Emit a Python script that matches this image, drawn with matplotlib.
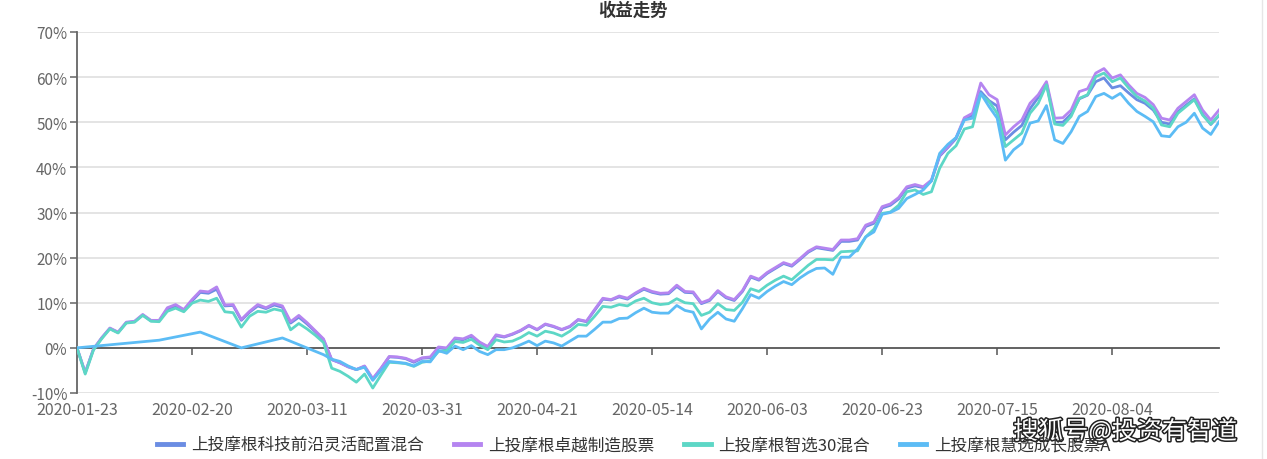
import matplotlib
matplotlib.use("Agg")
import matplotlib.pyplot as plt
import matplotlib.patheffects as pe
from matplotlib.lines import Line2D

plt.rcParams['font.family'] = ['Noto Sans CJK SC', 'DejaVu Sans']

title = "收益走势"
series_names = ["上投摩根科技前沿灵活配置混合", "上投摩根卓越制造股票",
                "上投摩根智选30混合", "上投摩根慧选成长股票A"]
x_labels = ["2020-01-23", "2020-02-20", "2020-03-11", "2020-03-31", "2020-04-21",
            "2020-05-14", "2020-06-03", "2020-06-23", "2020-07-15", "2020-08-04"]
label_step = 14
y_ticks = [-10, 0, 10, 20, 30, 40, 50, 60, 70]

# 上投摩根科技前沿灵活配置混合 (%)
keji = [0, -5.5, -0.3, 2.2, 4.3, 3.4, 5.6, 5.8, 7.3, 6.0,
        6.0, 8.6, 9.3, 8.3, 10.4, 12.3, 12.1, 13.0, 9.3, 9.4,
        6.1, 7.9, 9.3, 8.7, 9.5, 9.0, 5.5, 6.8, 5.3, 3.6,
        1.8, -2.6, -3.3, -4.2, -4.8, -4.1, -7.0, -4.6, -2.0, -2.1,
        -2.4, -3.2, -2.3, -2.2, 0.0, -0.2, 2.0, 1.8, 2.6, 1.1,
        0.2, 2.7, 2.4, 3.0, 3.8, 4.9, 4.0, 5.2, 4.7, 4.0,
        4.7, 6.2, 5.8, 8.3, 10.8, 10.6, 11.3, 10.8, 12.0, 13.0,
        12.3, 11.9, 12.0, 13.6, 12.3, 12.2, 9.8, 10.5, 12.5, 11.1,
        10.5, 12.5, 15.7, 15.0, 16.5, 17.6, 18.7, 18.1, 19.6, 21.2,
        22.2, 21.9, 21.6, 23.6, 23.6, 23.9, 26.9, 27.6, 31.0, 31.6,
        33.0, 35.4, 35.9, 35.5, 37.0, 42.5, 44.4, 46.4, 50.6, 51.6,
        56.8, 54.8, 53.6, 46.1, 47.8, 49.3, 53.0, 55.5, 58.6, 50.0,
        50.0, 51.8, 55.2, 56.0, 59.0, 59.8, 57.6, 58.1, 56.5, 55.0,
        54.2, 52.7, 50.0, 49.6, 52.3, 53.8, 55.2, 51.8, 49.5, 51.5]

# 上投摩根卓越制造股票 (%)
zhuoyue = [0, -5.5, -0.3, 2.2, 4.4, 3.5, 5.7, 5.9, 7.4, 6.1,
           6.1, 8.9, 9.6, 8.5, 10.7, 12.6, 12.4, 13.5, 9.5, 9.6,
           6.3, 8.1, 9.6, 8.9, 9.8, 9.3, 5.8, 7.2, 5.6, 3.8,
           2.0, -2.6, -3.3, -4.2, -4.8, -4.0, -6.8, -4.5, -1.9, -2.0,
           -2.3, -3.0, -2.2, -2.0, 0.2, 0.0, 2.2, 2.0, 2.8, 1.3,
           0.3, 2.9, 2.5, 3.1, 3.9, 5.0, 4.1, 5.3, 4.8, 4.1,
           4.8, 6.3, 5.9, 8.5, 11.0, 10.7, 11.5, 11.0, 12.2, 13.2,
           12.5, 12.1, 12.2, 13.9, 12.5, 12.4, 10.0, 10.7, 12.7, 11.3,
           10.7, 12.7, 15.9, 15.2, 16.7, 17.8, 18.9, 18.3, 19.8, 21.4,
           22.4, 22.1, 21.8, 23.9, 23.9, 24.2, 27.2, 27.9, 31.3, 31.9,
           33.3, 35.7, 36.2, 35.7, 37.2, 42.7, 44.6, 46.6, 51.0, 52.0,
           58.7, 56.1, 55.0, 47.2, 49.0, 50.5, 54.2, 56.1, 59.0, 50.9,
           51.0, 52.7, 56.8, 57.4, 60.9, 61.9, 59.8, 60.5, 58.3, 56.4,
           55.5, 53.9, 50.9, 50.5, 53.1, 54.6, 56.1, 52.7, 50.5, 52.7]

# 上投摩根智选30混合 (%)
zhixuan = [0, -5.8, -0.5, 2.0, 4.2, 3.3, 5.5, 5.7, 7.2, 5.9,
           5.8, 8.1, 8.8, 8.0, 9.9, 10.6, 10.3, 11.0, 8.0, 7.8,
           4.6, 7.0, 8.1, 7.9, 8.6, 8.2, 4.0, 5.4, 4.2, 2.8,
           1.2, -4.5, -5.2, -6.3, -7.6, -5.8, -8.9, -6.0, -3.2, -3.3,
           -3.5, -4.1, -3.2, -2.9, -0.8, -0.6, 1.4, 1.2, 1.9, 0.6,
           -0.4, 1.8, 1.3, 1.5, 2.3, 3.4, 2.6, 3.7, 3.3, 2.6,
           3.7, 5.2, 5.0, 7.0, 9.2, 9.0, 9.6, 9.3, 10.4, 11.0,
           10.0, 9.6, 9.8, 10.9, 10.0, 9.8, 7.2, 7.9, 9.8, 8.5,
           8.3, 10.1, 13.1, 12.5, 13.9, 15.0, 15.9, 15.1, 16.7, 18.3,
           19.6, 19.6, 19.5, 21.3, 21.4, 21.5, 24.6, 26.3, 29.8, 30.1,
           31.6, 34.6, 35.0, 34.0, 34.6, 39.8, 43.1, 44.8, 48.5, 49.0,
           56.2, 54.6, 52.0, 44.6, 46.1, 47.6, 52.0, 54.2, 58.3, 49.6,
           49.3, 51.3, 55.3, 56.1, 60.1, 60.9, 59.0, 59.8, 57.6, 55.7,
           54.7, 53.1, 49.4, 49.0, 52.0, 53.5, 55.0, 51.6, 49.6, 51.6]

# 上投摩根慧选成长股票A (%) -- weekly values during the early period (None = no value)
huixuan = [0, None, None, None, None, None, None, None, None, None,
           1.7, None, None, None, None, 3.5, None, None, None, None,
           0.0, None, None, None, None, 2.2, None, None, None, None,
           -1.5, -2.5, -3.0, -4.0, -4.8, -4.3, -7.2, -5.0, -3.0, -3.2,
           -3.4, -4.0, -3.0, -3.1, -0.6, -1.2, 0.4, -0.4, 0.5, -0.8,
           -1.5, -0.4, -0.4, 0.0, 0.7, 1.5, 0.5, 1.5, 1.1, 0.4,
           1.5, 2.6, 2.6, 4.1, 5.7, 5.7, 6.5, 6.6, 7.8, 8.8,
           7.9, 7.7, 7.7, 9.4, 8.3, 7.9, 4.2, 6.4, 7.9, 6.4,
           5.9, 8.7, 11.8, 11.0, 12.5, 13.7, 14.7, 14.0, 15.5, 16.7,
           17.6, 17.7, 16.3, 20.1, 20.1, 21.9, 24.6, 25.7, 29.6, 30.0,
           30.9, 33.1, 34.0, 35.0, 37.0, 43.1, 45.1, 46.6, 50.5, 50.9,
           56.4, 53.5, 50.9, 41.6, 43.9, 45.3, 49.8, 50.3, 53.7, 46.1,
           45.3, 47.9, 51.3, 52.4, 55.7, 56.4, 55.3, 56.4, 54.2, 52.4,
           51.3, 50.1, 47.0, 46.8, 49.0, 50.0, 52.0, 48.7, 47.3, 50.1]

colors = ["#6b8de3", "#b585f0", "#5dd7c6", "#5cbcf5"]
all_series = [keji, zhuoyue, zhixuan, huixuan]

fig = plt.figure(figsize=(12.67, 4.60), dpi=100)
ax = fig.add_axes([77 / 1267, 1 - 394 / 460, (1219 - 77) / 1267, (394 - 33) / 460])

for name, vals, c in zip(series_names, all_series, colors):
    xs = [i for i, v in enumerate(vals) if v is not None]
    ys = [v for v in vals if v is not None]
    ax.plot(xs, ys, color=c, lw=2.0, label=name, solid_joinstyle='round', zorder=3)

n = len(keji)
ax.set_xlim(0, n - 1)
ax.set_ylim(-10, 70)

# grid
ax.set_yticks(y_ticks)
ax.set_yticklabels([f"{v}%" for v in y_ticks])
for v in y_ticks:
    if v != 0:
        ax.axhline(v, color="#dcdcdc", lw=1.1, zorder=1)

for s in ["top", "right", "bottom"]:
    ax.spines[s].set_visible(False)
ax.spines["left"].set_color("#666666")
ax.spines["left"].set_linewidth(1.3)
ax.tick_params(axis="y", colors="#666666", labelcolor="#666666", length=5, width=1.1,
               labelsize=11, pad=2)

tick_pos = [i * label_step for i in range(len(x_labels))]
ax.set_xticks(tick_pos)
ax.set_xticklabels(x_labels)
ax.tick_params(axis="x", length=0, labelsize=11.5, labelcolor="#666666", pad=6)

# zero axis line with ticks
sec = ax.secondary_xaxis(10 / 80)
sec.set_xticks(tick_pos[1:])
sec.set_xticklabels([])
sec.spines["bottom"].set_color("#555555")
sec.spines["bottom"].set_linewidth(1.3)
sec.tick_params(axis="x", direction="out", length=5, width=1.1, colors="#555555")

fig.text(633 / 1267, 1 - 11 / 460, title, ha="center", va="center", fontsize=12.5,
         fontweight="bold", color="#333333")

handles = [Line2D([0], [0], color=c, lw=3.5) for c in colors]
fig.legend(handles, series_names, loc="center", bbox_to_anchor=(0.5, 1 - 446 / 460),
           ncol=4, frameon=False, fontsize=12, handlelength=1.6, handletextpad=0.45,
           columnspacing=1.8, labelcolor="#333333")

fig.text(1237 / 1267, 1 - 433 / 460, "搜狐号@投资有智道", ha="right", va="center",
         fontsize=18, color="white",
         path_effects=[pe.withStroke(linewidth=2.2, foreground="#222222")])

fig.add_artist(Line2D([1262 / 1267, 1262 / 1267], [0, 1], transform=fig.transFigure,
                      color="#e6e6e6", lw=1))

fig.savefig("out.png", dpi=100)
